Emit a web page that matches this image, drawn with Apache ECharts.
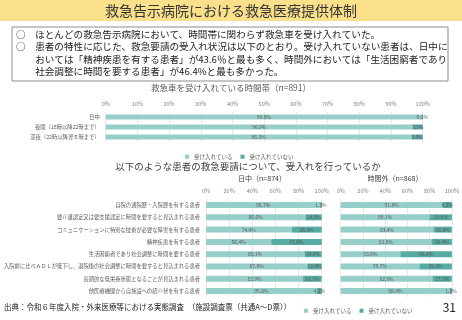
<!DOCTYPE html>
<html><head><meta charset="utf-8">
<script src="https://cdn.jsdelivr.net/npm/echarts@6/dist/echarts.min.js"></script>
<style>html,body{margin:0;padding:0;background:#fff}#c{width:462px;height:320px}</style>
</head><body><div id="c"></div>
<script>
const seriesNames = ['受け入れている', '受け入れていない'];
const topCats = ['日中', '夜間（18時以降22時まで）', '深夜（22時以降翌８時まで）'];
const topAccept = [99.8, 96.9, 96.5];
const topReject = [0.2, 3.1, 3.5];
const patientCats = [
  '自院の通院歴・入院歴を有する患者',
  '要介護認定又は要支援認定に時間を要すると見込まれる患者',
  'コミュニケーションに特別な技術が必要な障害を有する患者',
  '精神疾患を有する患者',
  '生活困窮者であり社会調整に時間を要する患者',
  '入院前に比べＡＤＬが低下し、退院後の社会調整に時間を要すると見込まれる患者',
  '長期的な低栄養状態となることが見込まれる患者',
  '他医療機関から自施設への紹介状を有する患者'
];
const dayAccept = [98.7, 86.0, 74.0, 56.4, 85.1, 87.6, 83.9, 95.8];
const dayReject = [1.3, 14.0, 26.0, 43.6, 14.9, 12.4, 16.1, 4.2];
const offAccept = [91.8, 80.1, 83.4, 81.6, 53.6, 70.7, 82.5, 98.4];
const offReject = [8.2, 19.9, 16.6, 18.4, 46.4, 29.3, 17.5, 1.6];

const FONT = '"Noto Sans CJK JP", "Noto Sans", sans-serif';
const C1 = '#96cfca', C2 = '#56aba3';
const chart = echarts.init(document.getElementById('c'), null, {renderer: 'canvas'});

function xAx(gi, interval) {
  return {
    gridIndex: gi, type: 'value', position: 'top', min: 0, max: 100, interval: interval,
    axisLine: {show: false}, axisTick: {show: false},
    splitLine: {lineStyle: {color: '#e3e3e3', width: 0.8}},
    axisLabel: {fontSize: 5.5, color: '#808080', margin: 5, fontFamily: FONT, formatter: '{value}%'}
  };
}
function yAx(gi, cats, show) {
  return {
    gridIndex: gi, type: 'category', data: cats, inverse: true,
    axisLine: {show: false}, axisTick: {show: false},
    axisLabel: {show: show, fontSize: 5.3, color: '#595959', margin: 6, fontFamily: FONT}
  };
}
function bar(name, gi, data, color, stack, bw) {
  return {
    name: name, type: 'bar', xAxisIndex: gi, yAxisIndex: gi, stack: stack, data: data,
    barWidth: bw, itemStyle: {color: color},
    label: {show: true, position: 'inside', fontSize: 5, color: '#595959', fontFamily: FONT,
      formatter: p => p.value.toFixed(1) + '%'}
  };
}

const boxLines = [
  '○　ほとんどの救急告示病院において、時間帯に関わらず救急車を受け入れていた。',
  '○　患者の特性に応じた、救急要請の受入れ状況は以下のとおり。受け入れていない患者は、日中に',
  '　　おいては「精神疾患を有する患者」が43.6％と最も多く、時間外においては「生活困窮者であり',
  '　　社会調整に時間を要する患者」が46.4%と最も多かった。'
];

const graphics = [
  {type: 'rect', shape: {x: 0, y: 0, width: 462, height: 21}, style: {fill: '#fbe08c'}, z: 0},
  {type: 'text', x: 231, y: 10.5, style: {text: '救急告示病院における救急医療提供体制', font: '14px ' + FONT, fill: '#333', align: 'center', verticalAlign: 'middle'}},
  {type: 'rect', shape: {x: 12, y: 27, width: 436, height: 54}, style: {fill: '#fff', stroke: '#8c8c8c', lineWidth: 1}},
  {type: 'text', x: 231, y: 88, style: {text: '救急車を受け入れている時間帯（n=891）', font: '8.5px ' + FONT, fill: '#595959', align: 'center', verticalAlign: 'middle'}},
  {type: 'text', x: 248, y: 166, style: {text: '以下のような患者の救急要請について、受入れを行っているか', font: '9.5px ' + FONT, fill: '#404040', align: 'center', verticalAlign: 'middle'}},
  {type: 'text', x: 262, y: 178, style: {text: '日中（n=874）', font: '7px ' + FONT, fill: '#404040', align: 'center', verticalAlign: 'middle'}},
  {type: 'text', x: 395, y: 178, style: {text: '時間外（n=868）', font: '7px ' + FONT, fill: '#404040', align: 'center', verticalAlign: 'middle'}},
  {type: 'text', x: 4, y: 307, style: {text: '出典：令和６年度入院・外来医療等における実態調査　（施設調査票（共通A〜D票））', font: '7.5px ' + FONT, fill: '#222', align: 'left', verticalAlign: 'middle'}},
  {type: 'text', x: 456, y: 307, style: {text: '31', font: '12px ' + FONT, fill: '#222', align: 'right', verticalAlign: 'middle'}}
];
boxLines.forEach((t, i) => graphics.push({type: 'text', x: 16, y: 34 + i * 12.5,
  style: {text: t, font: '9.6px ' + FONT, fill: '#222', align: 'left', verticalAlign: 'middle'}}));

chart.setOption({
  animation: false,
  textStyle: {fontFamily: FONT},
  legend: [
    {data: seriesNames, left: 180, top: 149, icon: 'rect', itemWidth: 4, itemHeight: 4, itemGap: 8,
      textStyle: {fontSize: 5.5, color: '#595959'}},
    {data: seriesNames, left: 299, top: 303, icon: 'rect', itemWidth: 4, itemHeight: 4, itemGap: 8,
      textStyle: {fontSize: 5.5, color: '#595959'}}
  ],
  grid: [
    {left: 105.7, width: 317, top: 112, height: 30},
    {left: 206, width: 115.7, top: 198.9, height: 98.3},
    {left: 340.7, width: 112.6, top: 198.9, height: 98.3}
  ],
  xAxis: [xAx(0, 10), xAx(1, 20), xAx(2, 20)],
  yAxis: [yAx(0, topCats, true), yAx(1, patientCats, true), yAx(2, patientCats, false)],
  series: [
    bar(seriesNames[0], 0, topAccept, C1, 's0', 5),
    bar(seriesNames[1], 0, topReject, C2, 's0', 5),
    bar(seriesNames[0], 1, dayAccept, C1, 's1', 6),
    bar(seriesNames[1], 1, dayReject, C2, 's1', 6),
    bar(seriesNames[0], 2, offAccept, C1, 's2', 6),
    bar(seriesNames[1], 2, offReject, C2, 's2', 6)
  ],
  graphic: graphics
});
</script></body></html>
